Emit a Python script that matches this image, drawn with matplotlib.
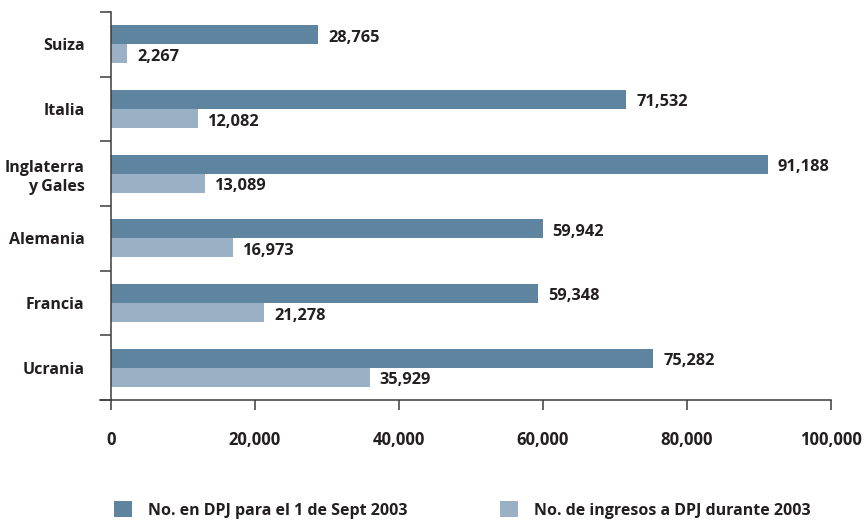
import matplotlib.pyplot as plt
from matplotlib.ticker import FuncFormatter

# data
countries = ['Suiza', 'Italia', 'Inglaterra\ny Gales', 'Alemania', 'Francia', 'Ucrania']
en_dpj = [28765, 71532, 91188, 59942, 59348, 75282]
ingresos = [2267, 12082, 13089, 16973, 21278, 35929]
series_labels = ['No. en DPJ para el 1 de Sept 2003', 'No. de ingresos a DPJ durante 2003']
x_ticks = [0, 20000, 40000, 60000, 80000, 100000]

DARK = '#5e849f'
LIGHT = '#9ab1c5'
TEXT = '#231f20'
AXIS = '#3c3c3c'

plt.rcParams['font.family'] = ['Open Sans', 'DejaVu Sans']
plt.rcParams['font.weight'] = 'bold'
plt.rcParams['font.size'] = 11

fig = plt.figure(figsize=(8.68, 5.2), dpi=100)
ax = fig.add_axes([100 / 868, 1 - 400 / 520, (831 - 100) / 868, (400 - 12) / 520])

h = 0.294
pos = list(range(len(countries)))
bars1 = ax.barh([p - h / 2 for p in pos], en_dpj, height=h, color=DARK, label=series_labels[0])
bars2 = ax.barh([p + h / 2 for p in pos], ingresos, height=h, color=LIGHT, label=series_labels[1])

# value labels next to the bar ends
for bars, vals in ((bars1, en_dpj), (bars2, ingresos)):
    for b, v in zip(bars, vals):
        ax.annotate(f'{v:,}', (v, b.get_y() + b.get_height() / 2),
                    xytext=(10, -3), textcoords='offset pixels',
                    ha='left', va='center', color=TEXT, fontsize=11.8, fontweight='bold')

ax.set_xlim(-1530, 100000)
ax.set_ylim(len(countries) - 0.5, -0.5)

# axes styling
for s in ('top', 'right'):
    ax.spines[s].set_visible(False)
ax.spines['left'].set_position(('data', 0))
for s in ('left', 'bottom'):
    ax.spines[s].set_color(AXIS)
    ax.spines[s].set_linewidth(1.1)

ax.set_xticks(x_ticks)
ax.xaxis.set_major_formatter(FuncFormatter(lambda v, _: f'{int(v):,}'))
ax.tick_params(axis='x', direction='out', length=7.5, width=1.1, color=AXIS,
               pad=15, labelsize=12, labelcolor=TEXT)

ax.set_yticks(pos)
ax.set_yticklabels(countries)
ax.set_yticks([p - 0.5 for p in range(len(countries) + 1)], minor=True)
ax.tick_params(axis='y', which='major', length=0, pad=19, labelsize=11.5, labelcolor=TEXT)
ax.tick_params(axis='y', which='minor', direction='out', length=8, width=1.1, color=AXIS)
for lbl in ax.get_yticklabels():
    lbl.set_linespacing(1.3)
    lbl.set_fontweight('bold')
for lbl in ax.get_xticklabels():
    lbl.set_fontweight('bold')

# legend, one entry per block as in the original
leg_kw = dict(frameon=False, loc='center left', borderpad=0, borderaxespad=0,
              handlelength=1.1, handleheight=1.1, handletextpad=1.0,
              prop={'size': 11.5, 'weight': 'bold'}, labelcolor=TEXT)
fig.legend([bars1], [series_labels[0]], bbox_to_anchor=(114 / 868, 1 - 510 / 520), **leg_kw)
fig.legend([bars2], [series_labels[1]], bbox_to_anchor=(500 / 868, 1 - 510 / 520), **leg_kw)

fig.savefig('out.png', dpi=100, facecolor='white')
